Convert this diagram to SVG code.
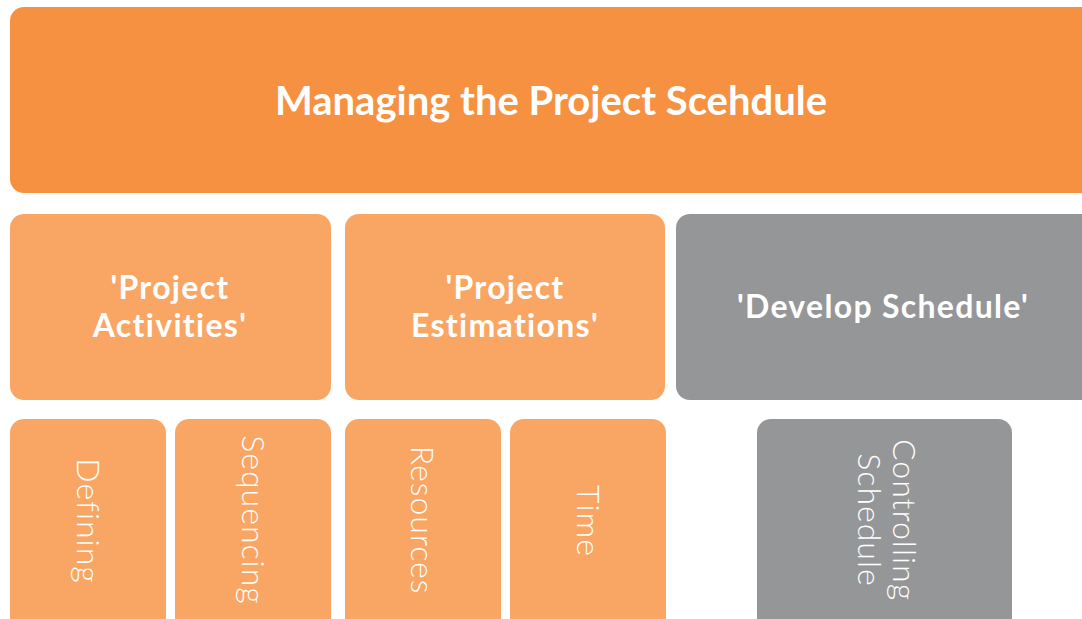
<svg xmlns="http://www.w3.org/2000/svg" width="1082" height="619" viewBox="0 0 1082 619">
<style>
.top{fill:#F79142}
.or{fill:#F9A664}
.gr{fill:#959698}
.t{fill:#fff;font-family:Lato,"Open Sans","Liberation Sans",sans-serif;text-anchor:middle}
.b{font-weight:700}
.m{font-size:32px;letter-spacing:1.3px}
.l{font-weight:300;font-size:32px;letter-spacing:1px}
</style>
<rect width="1082" height="619" fill="#fff"/>
<g id="n-top">
<rect class="top" x="10" y="7" width="1090" height="186" rx="14"/>
<text class="t b" x="551" y="115" font-size="40">Managing the Project Scehdule</text>
</g>
<g id="n-activities">
<rect class="or" x="10" y="214" width="321" height="186" rx="14"/>
<text class="t b m" x="170" y="299">'Project</text>
<text class="t b m" x="170" y="337">Activities'</text>
</g>
<g id="n-estimations">
<rect class="or" x="345" y="214" width="320" height="186" rx="14"/>
<text class="t b m" x="505" y="299">'Project</text>
<text class="t b m" x="505" y="337">Estimations'</text>
</g>
<g id="n-develop">
<rect class="gr" x="676" y="214" width="420" height="186" rx="14"/>
<text class="t b m" x="883" y="318">'Develop Schedule'</text>
</g>
<g id="n-defining">
<rect class="or" x="10" y="419" width="156" height="220" rx="14"/>
<text class="t l" transform="translate(88,521) rotate(90)" y="11">Defining</text>
</g>
<g id="n-sequencing">
<rect class="or" x="175" y="419" width="156" height="220" rx="14"/>
<text class="t l" transform="translate(253,520) rotate(90)" y="11">Sequencing</text>
</g>
<g id="n-resources">
<rect class="or" x="345" y="419" width="156" height="220" rx="14"/>
<text class="t l" transform="translate(422,520) rotate(90)" y="11">Resources</text>
</g>
<g id="n-time">
<rect class="or" x="510" y="419" width="156" height="220" rx="14"/>
<text class="t l" transform="translate(588,521) rotate(90)" y="11">Time</text>
</g>
<g id="n-controlling">
<rect class="gr" x="757" y="419" width="255" height="220" rx="14"/>
<text class="t l" transform="translate(886,520) rotate(90)" y="-7">Controlling</text>
<text class="t l" transform="translate(886,520) rotate(90)" y="28">Schedule</text>
</g>
<g id="connectors"></g>
</svg>
